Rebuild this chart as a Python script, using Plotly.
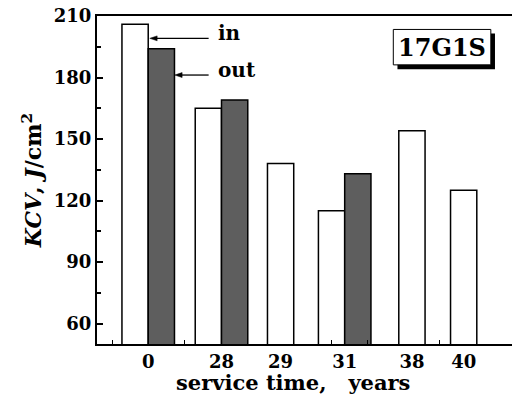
import plotly.graph_objects as go

# Impact toughness KCV of 17G1S steel vs service time, inner and outer surface
years = ["0", "28", "29", "31", "38", "40"]
kcv_in = [206, 165, 138, 115, 154, 125]
kcv_out = [194, 169, None, 133, None, None]

# layout: group centres along the x axis (bar width = 1 unit)
group_x = [1.95, 4.74, 6.99, 9.43, 11.99, 13.96]
bar_w = 1.0
minor_x = [0.60, 3.34, 8.94, 10.30, 13.05]

FONT = "DejaVu Serif"
GREY = "#5e5e5e"

in_offset = [-bar_w if o is not None else -bar_w / 2 for o in kcv_out]
out_x = [gx for gx, o in zip(group_x, kcv_out) if o is not None]
out_y = [o for o in kcv_out if o is not None]

fig = go.Figure()
fig.add_trace(go.Bar(
    x=group_x, y=kcv_in, width=bar_w, offset=in_offset,
    marker=dict(color="white", line=dict(color="black", width=1.5)),
    name="in",
))
fig.add_trace(go.Bar(
    x=out_x, y=out_y, width=bar_w, offset=0,
    marker=dict(color=GREY, line=dict(color="black", width=1.5)),
    name="out",
))

tick_font = dict(family=FONT, size=18, color="black", weight="bold")
label_font = dict(family=FONT, size=20, color="black", weight="bold")

fig.update_layout(
    width=512, height=399,
    margin=dict(l=97, r=0, t=16, b=55),
    paper_bgcolor="white", plot_bgcolor="white",
    showlegend=False, barmode="overlay",
    xaxis=dict(
        range=[0, 15.8], showgrid=False, zeroline=False,
        showline=True, linecolor="black", linewidth=2, mirror=True,
        tickmode="array", tickvals=group_x, ticktext=years,
        ticks="", tickfont=tick_font,
        minor=dict(tickmode="array", tickvals=minor_x, ticks="inside",
                   ticklen=4, tickwidth=1.2, tickcolor="black"),
    ),
    yaxis=dict(
        range=[50, 210], showgrid=False, zeroline=False,
        showline=True, linecolor="black", linewidth=2, mirror=False,
        tickmode="array", tickvals=[60, 90, 120, 150, 180, 210],
        ticks="inside", ticklen=6, tickwidth=1.5, tickcolor="black",
        tickfont=tick_font,
        minor=dict(tickmode="array", tickvals=[75, 105, 135, 165, 195],
                   ticks="inside", ticklen=3.5, tickwidth=1.5, tickcolor="black"),
        title=dict(text="<i>KCV</i>, <i>J</i>/cm<sup>2</sup>",
                   font=dict(family=FONT, size=22, color="black", weight="bold"),
                   standoff=6),
    ),
)

# 17G1S label with drop shadow
fig.add_shape(type="rect", xref="paper", yref="paper",
              x0=0.724, x1=0.959, y0=0.838, y1=0.947,
              fillcolor="black", line=dict(width=0), layer="above")
fig.add_shape(type="rect", xref="paper", yref="paper",
              x0=0.714, x1=0.949, y0=0.851, y1=0.959,
              fillcolor="white", line=dict(color="black", width=1), layer="above")
fig.add_annotation(xref="paper", yref="paper", x=0.832, y=0.904,
                   text="17G1S", showarrow=False,
                   font=dict(family=FONT, size=24, color="black", weight="bold"),
                   xanchor="center", yanchor="middle")

# pointer arrows to the in / out bars of the first group (line + solid head)
head_len = 0.28   # x units
head_half = 1.2   # y units
for tip_x, tip_y, tail_x in [(2.01, 199.1, 4.25), (2.96, 181.2, 4.25)]:
    fig.add_shape(type="line", xref="x", yref="y",
                  x0=tip_x + head_len * 0.8, x1=tail_x, y0=tip_y, y1=tip_y,
                  line=dict(color="black", width=1.3), layer="above")
    fig.add_shape(type="path", xref="x", yref="y",
                  path=(f"M {tip_x} {tip_y} L {tip_x + head_len} {tip_y + head_half} "
                        f"L {tip_x + head_len} {tip_y - head_half} Z"),
                  fillcolor="black", line=dict(color="black", width=0.5), layer="above")

fig.add_annotation(x=4.54, y=201.5, xref="x", yref="y", text="in",
                   showarrow=False, xanchor="left", yanchor="middle", font=label_font)
fig.add_annotation(x=4.54, y=183.7, xref="x", yref="y", text="out",
                   showarrow=False, xanchor="left", yanchor="middle", font=label_font)

# x-axis title
fig.add_annotation(xref="paper", yref="paper", x=0.472, y=-0.116,
                   text="service time,\u00a0\u00a0\u00a0years", showarrow=False,
                   xanchor="center", yanchor="middle",
                   font=dict(family=FONT, size=21, color="black", weight="bold"))

fig.write_html("out.html")
